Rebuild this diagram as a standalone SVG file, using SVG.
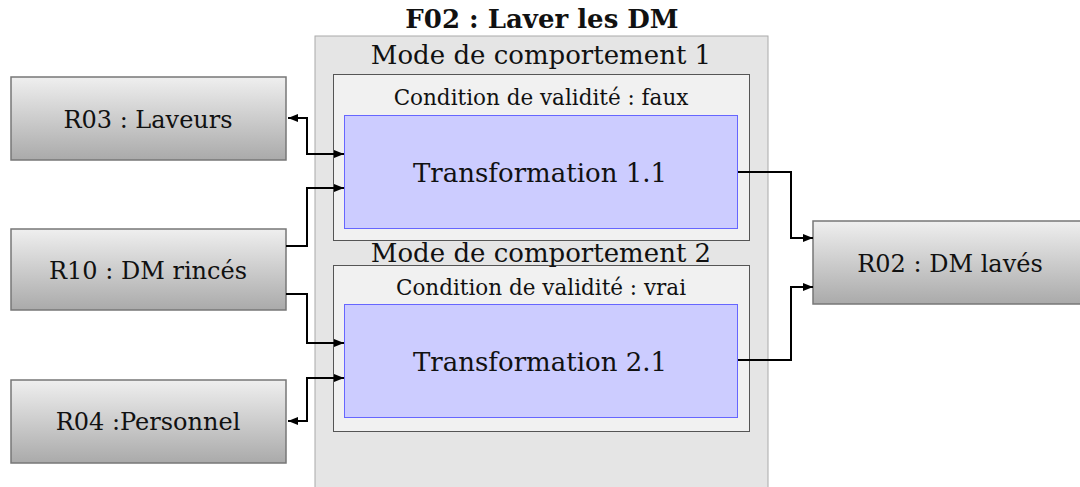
<svg xmlns="http://www.w3.org/2000/svg" width="1080" height="487" viewBox="0 0 1080 487">
<defs>
<linearGradient id="g" x1="0" y1="0" x2="0" y2="1">
<stop offset="0" stop-color="#efefef"/>
<stop offset="1" stop-color="#aaaaaa"/>
</linearGradient>
<marker id="a" viewBox="0 0 10 8" refX="10" refY="4" markerWidth="10" markerHeight="8" markerUnits="userSpaceOnUse" orient="auto">
<path d="M0,0 L10,4 L0,8 Z" fill="#000"/>
</marker>
<marker id="as" viewBox="0 0 10 8" refX="0" refY="4" markerWidth="10" markerHeight="8" markerUnits="userSpaceOnUse" orient="auto">
<path d="M10,0 L0,4 L10,8 Z" fill="#000"/>
</marker>
</defs>
<style>
text{font-family:"DejaVu Serif",serif;fill:#111;text-anchor:middle}
.res{fill:url(#g);stroke:#777;stroke-width:1.5}
.mode{fill:#f1f1f1;stroke:#555;stroke-width:1}
.tr{fill:#ccccff;stroke:#6666ff;stroke-width:1}
.c{fill:none;stroke:#000;stroke-width:2}
.lab{font-size:24px}
.md{font-size:26px}
.cv{font-size:21.5px}
.tt{font-size:26px}
</style>
<g id="F02">
<rect x="315" y="36" width="453" height="460" fill="#e5e5e5" stroke="#aaa" stroke-width="1"/>
<text x="542" y="28" font-size="26" font-weight="bold">F02 : Laver les DM</text>
<text class="md" x="541" y="64">Mode de comportement 1</text>
</g>
<g id="mode1">
<rect class="mode" x="333.5" y="74.5" width="416" height="166"/>
<text class="cv" x="541" y="105">Condition de validité : faux</text>
</g>
<g id="T11">
<rect class="tr" x="344.5" y="115.5" width="393" height="113"/>
<text class="tt" x="540" y="182">Transformation 1.1</text>
</g>
<g id="mode2">
<rect class="mode" x="333.5" y="265.5" width="416" height="166"/>
<text class="md" x="541" y="262">Mode de comportement 2</text>
<text class="cv" x="541" y="295">Condition de validité : vrai</text>
</g>
<g id="T21">
<rect class="tr" x="344.5" y="304.5" width="393" height="113"/>
<text class="tt" x="540" y="371">Transformation 2.1</text>
</g>
<g id="R03">
<rect class="res" x="11" y="77" width="275" height="83"/>
<text class="lab" x="148" y="128">R03 : Laveurs</text>
</g>
<g id="R10">
<rect class="res" x="11" y="229" width="275" height="81"/>
<text class="lab" x="148" y="279">R10 : DM rincés</text>
</g>
<g id="R04">
<rect class="res" x="11" y="380" width="275" height="83"/>
<text class="lab" x="148" y="430">R04 :Personnel</text>
</g>
<g id="R02">
<rect class="res" x="813" y="221" width="275" height="83"/>
<text class="lab" x="950" y="272">R02 : DM lavés</text>
</g>
<g id="connectors">
<path class="c" d="M288,118 H307 V154 H344" marker-start="url(#as)" marker-end="url(#a)"/>
<path class="c" d="M286,246 H307 V188 H344" marker-end="url(#a)"/>
<path class="c" d="M286,294 H307 V343 H344" marker-end="url(#a)"/>
<path class="c" d="M288,421 H307 V378 H344" marker-start="url(#as)" marker-end="url(#a)"/>
<path class="c" d="M738,172 H791 V238 H813" marker-end="url(#a)"/>
<path class="c" d="M738,360 H791 V287 H813" marker-end="url(#a)"/>
</g>
</svg>
